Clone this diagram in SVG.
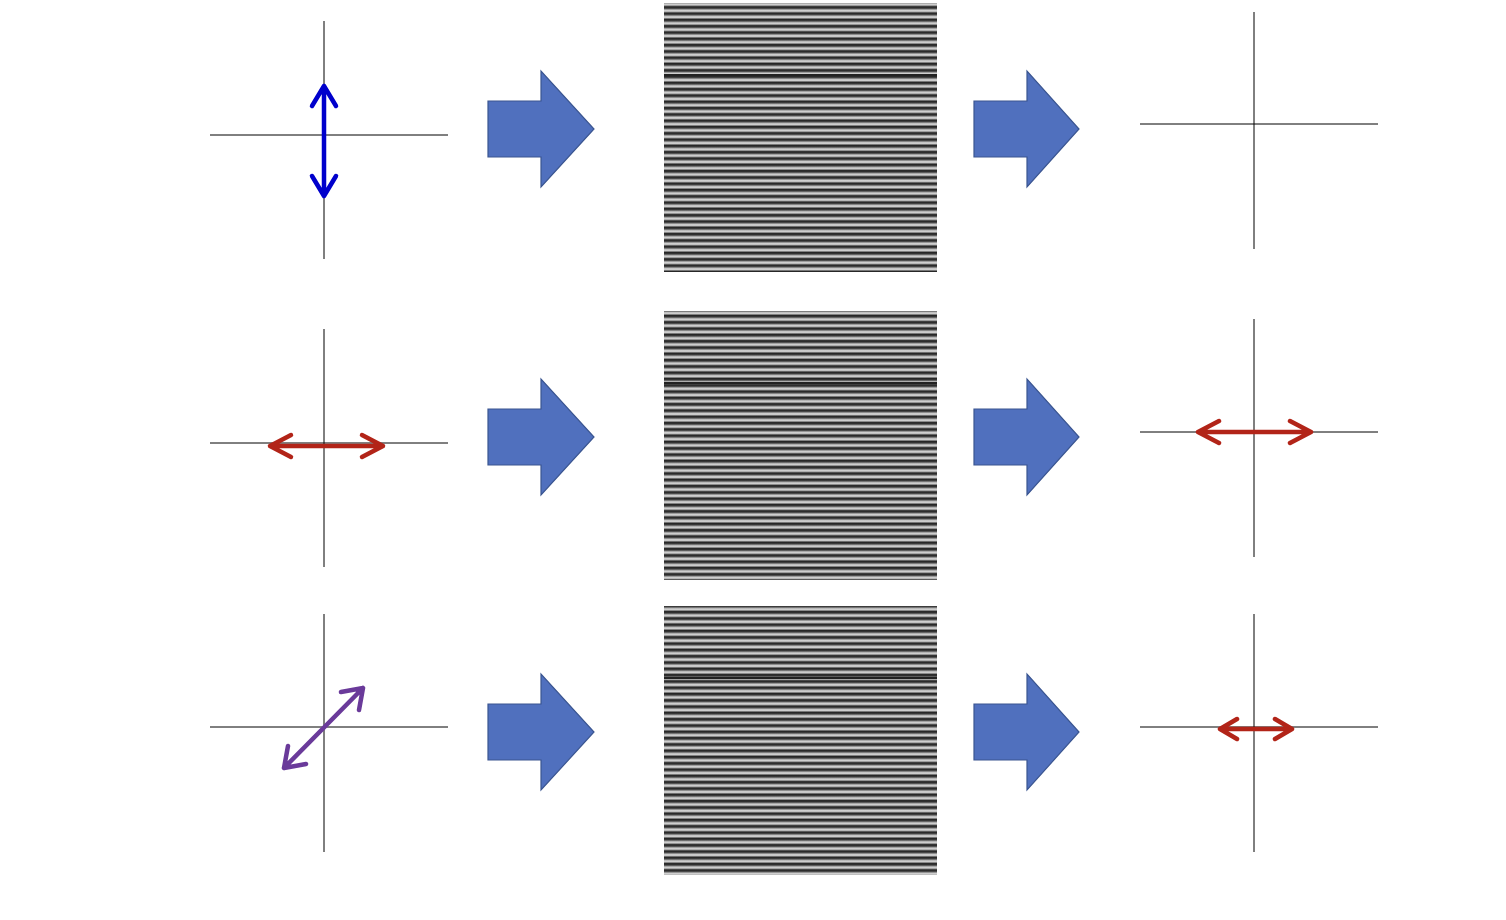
<svg xmlns="http://www.w3.org/2000/svg" width="1506" height="920" viewBox="0 0 1506 920">
<defs>
<linearGradient id="g" x1="0" y1="0" x2="0" y2="1">
<stop offset="0" stop-color="#222"/><stop offset="0.3" stop-color="#333"/><stop offset="0.5" stop-color="#999"/><stop offset="0.7" stop-color="#e4e4e4"/><stop offset="0.85" stop-color="#bbb"/><stop offset="1" stop-color="#444"/>
</linearGradient>
<pattern id="st" patternUnits="userSpaceOnUse" width="10" height="6.3"><rect width="10" height="6.3" fill="url(#g)"/></pattern>
</defs>
<style>
.ax{stroke:#000;stroke-width:1;fill:none}
.ba{fill:#5070be;stroke:#3a5590;stroke-width:1.2}
.blue{stroke:#0000cc;stroke-width:4.5;fill:none;stroke-linecap:round;stroke-linejoin:round}
.red{stroke:#b22418;stroke-width:4.5;fill:none;stroke-linecap:round;stroke-linejoin:round}
.pur{stroke:#6a3a9a;stroke-width:4.5;fill:none;stroke-linecap:round;stroke-linejoin:round}
</style>
<rect width="1506" height="920" fill="#fff"/>
<g id="gratings">
<rect x="664" y="3" width="273" height="269" fill="url(#st)"/><line x1="664" x2="937" y1="75" y2="75" stroke="#222" stroke-width="2"/>
<rect x="664" y="311" width="273" height="269" fill="url(#st)"/><line x1="664" x2="937" y1="383" y2="383" stroke="#222" stroke-width="2"/>
<rect x="664" y="606" width="273" height="269" fill="url(#st)"/><line x1="664" x2="937" y1="678" y2="678" stroke="#222" stroke-width="2"/>
</g>
<g id="axes">
<path class="ax" d="M210 135H448M324 21V259M1140 124H1378M1254 12V249M210 443H448M324 329V567M1140 432H1378M1254 319V557M210 727H448M324 614V852M1140 727H1378M1254 614V852"/>
</g>
<g id="blockarrows">
<path class="ba" d="M488 101H541V71L594 129L541 187V157H488Z"/>
<path class="ba" d="M974 101H1027V71L1079 129L1027 187V157H974Z"/>
<path class="ba" d="M488 409H541V379L594 437L541 495V465H488Z"/>
<path class="ba" d="M974 409H1027V379L1079 437L1027 495V465H974Z"/>
<path class="ba" d="M488 704H541V674L594 732L541 790V760H488Z"/>
<path class="ba" d="M974 704H1027V674L1079 732L1027 790V760H974Z"/>
</g>
<g id="connectors">
<path class="blue" d="M324 86V196M312 106L324 86L336 106M312 176L324 196L336 176"/>
<path class="red" d="M270 446H383M291 435L270 446L291 457M362 435L383 446L362 457"/>
<path class="red" d="M1198 432H1311M1219 421L1198 432L1219 443M1290 421L1311 432L1290 443"/>
<path class="pur" d="M284 768L363 688M288 746L284 768L306 764M341 692L363 688L359 710"/>
<path class="red" d="M1220 729H1292M1237 719L1220 729L1237 739M1275 719L1292 729L1275 739"/>
</g>
</svg>
